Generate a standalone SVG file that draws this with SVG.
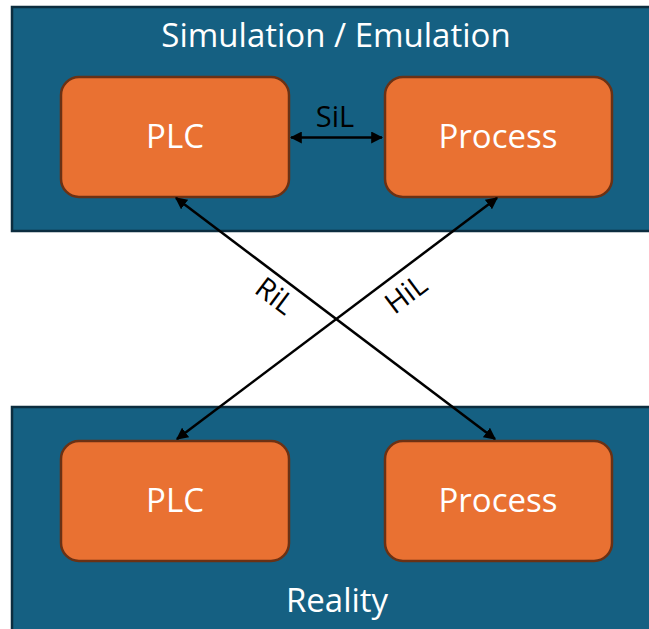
<svg xmlns="http://www.w3.org/2000/svg" width="649" height="629" viewBox="0 0 649 629">
<defs>
<style>
.panel{fill:#156082;stroke:#0c2d3f;stroke-width:2.5}
.box{fill:#e97132;stroke:#6b3114;stroke-width:2.5}
.wt{fill:#ffffff;font-family:"Open Sans","Liberation Sans",sans-serif;text-anchor:middle}
.bt{fill:#000000;font-family:"Open Sans","Liberation Sans",sans-serif;text-anchor:middle}
.conn{stroke:#000000;stroke-width:2.5;fill:none;marker-start:url(#ah);marker-end:url(#ah)}
</style>
<marker id="ah" viewBox="0 0 10 10" refX="9" refY="5" markerWidth="4.8" markerHeight="4.8" orient="auto-start-reverse" markerUnits="strokeWidth">
<path d="M0,0 L10,5 L0,10 z" fill="#000000"/>
</marker>
</defs>
<rect width="649" height="629" fill="#ffffff"/>
<g id="simulation">
<rect class="panel" x="12" y="7" width="650" height="224"/>
<text class="wt" x="336" y="47" font-size="33">Simulation / Emulation</text>
</g>
<g id="reality">
<rect class="panel" x="12" y="407" width="650" height="240"/>
<text class="wt" x="337" y="612" font-size="33">Reality</text>
</g>
<g id="plc-sim">
<rect class="box" x="61" y="77" width="228" height="120" rx="18"/>
<text class="wt" x="175" y="148" font-size="33">PLC</text>
</g>
<g id="process-sim">
<rect class="box" x="385" y="77" width="227" height="120" rx="18"/>
<text class="wt" x="498" y="148" font-size="33">Process</text>
</g>
<g id="plc-real">
<rect class="box" x="61" y="441" width="228" height="120" rx="18"/>
<text class="wt" x="175" y="512" font-size="33">PLC</text>
</g>
<g id="process-real">
<rect class="box" x="385" y="441" width="227" height="120" rx="18"/>
<text class="wt" x="498" y="512" font-size="33">Process</text>
</g>
<g id="connectors">
<line class="conn" x1="291" y1="137.5" x2="382" y2="137.5"/>
<line class="conn" x1="176" y1="198" x2="495" y2="439"/>
<line class="conn" x1="497" y1="198" x2="177" y2="439"/>
<text class="bt" x="335" y="127" font-size="29">SiL</text>
<text class="bt" font-size="29" transform="translate(269,304) rotate(37)">RiL</text>
<text class="bt" font-size="29" transform="translate(412,302) rotate(-37)">HiL</text>
</g>
</svg>
